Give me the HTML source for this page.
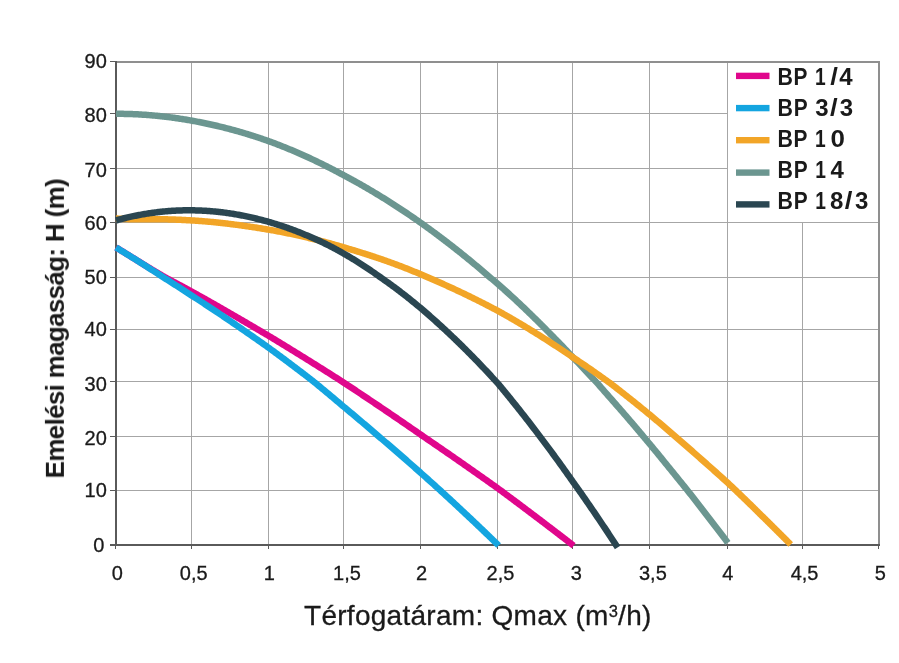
<!DOCTYPE html>
<html><head><meta charset="utf-8"><style>
html,body{margin:0;padding:0;background:#fff;}
body{width:899px;height:663px;overflow:hidden;}
svg{display:block;}
text{font-family:"Liberation Sans",sans-serif;}
</style></head><body>
<svg width="899" height="663" viewBox="0 0 899 663">
<rect width="899" height="663" fill="#fff"/>
<g fill="#a6a6a6" shape-rendering="crispEdges">
<rect x="116" y="113" width="763" height="1"/>
<rect x="116" y="168" width="763" height="1"/>
<rect x="116" y="222" width="763" height="1"/>
<rect x="116" y="277" width="763" height="1"/>
<rect x="116" y="329" width="763" height="1"/>
<rect x="116" y="381" width="763" height="1"/>
<rect x="116" y="436" width="763" height="1"/>
<rect x="116" y="490" width="763" height="1"/>
<rect x="191" y="62" width="1" height="483"/>
<rect x="268" y="62" width="1" height="483"/>
<rect x="343" y="62" width="1" height="483"/>
<rect x="420" y="62" width="1" height="483"/>
<rect x="497" y="62" width="1" height="483"/>
<rect x="572" y="62" width="1" height="483"/>
<rect x="649" y="62" width="1" height="483"/>
<rect x="727" y="62" width="1" height="483"/>
<rect x="802" y="62" width="1" height="483"/>
</g>
<rect x="728" y="63" width="150" height="159" fill="#fff"/>
<g fill="#8f8f8f" shape-rendering="crispEdges">
<rect x="116" y="61" width="763" height="2"/>
<rect x="878" y="61" width="2" height="484"/>
</g>
<g fill="#5a5a5a" shape-rendering="crispEdges">
<rect x="115" y="61" width="2" height="485"/>
<rect x="110" y="544" width="770" height="2"/>
<rect x="110" y="113" width="6" height="1"/>
<rect x="110" y="168" width="6" height="1"/>
<rect x="110" y="222" width="6" height="1"/>
<rect x="110" y="277" width="6" height="1"/>
<rect x="110" y="329" width="6" height="1"/>
<rect x="110" y="381" width="6" height="1"/>
<rect x="110" y="436" width="6" height="1"/>
<rect x="110" y="490" width="6" height="1"/>
<rect x="110" y="61" width="6" height="1"/>
<rect x="191" y="545" width="1" height="4"/>
<rect x="268" y="545" width="1" height="4"/>
<rect x="343" y="545" width="1" height="4"/>
<rect x="420" y="545" width="1" height="4"/>
<rect x="497" y="545" width="1" height="4"/>
<rect x="572" y="545" width="1" height="4"/>
<rect x="649" y="545" width="1" height="4"/>
<rect x="727" y="545" width="1" height="4"/>
<rect x="802" y="545" width="1" height="4"/>
<rect x="115" y="545" width="1" height="4"/>
<rect x="878" y="545" width="1" height="4"/>
</g>
<g fill="none" stroke-width="6.5" stroke-linecap="butt" stroke-linejoin="round">
<path d="M116.00,113.80 L116.38,113.80 L117.51,113.80 L118.64,113.81 L119.78,113.82 L120.91,113.83 L122.04,113.84 L123.17,113.86 L124.31,113.88 L125.44,113.91 L126.57,113.93 L127.70,113.96 L128.84,114.00 L129.97,114.03 L131.10,114.07 L132.23,114.12 L133.37,114.16 L134.50,114.21 L135.63,114.26 L136.76,114.32 L137.90,114.37 L139.03,114.43 L140.16,114.50 L141.29,114.57 L142.43,114.64 L143.56,114.71 L144.69,114.78 L145.82,114.86 L146.96,114.95 L148.09,115.03 L149.22,115.12 L150.35,115.21 L151.49,115.31 L152.62,115.40 L153.75,115.50 L154.88,115.61 L156.01,115.72 L157.15,115.83 L158.28,115.94 L159.41,116.05 L160.54,116.17 L161.68,116.30 L162.81,116.42 L163.94,116.55 L165.07,116.68 L166.21,116.82 L167.34,116.95 L168.47,117.09 L169.60,117.24 L170.74,117.38 L171.87,117.53 L173.00,117.69 L174.13,117.84 L175.27,118.00 L176.40,118.16 L177.53,118.33 L178.67,118.50 L179.80,118.67 L180.93,118.84 L182.06,119.02 L183.19,119.20 L184.33,119.38 L185.46,119.57 L186.59,119.76 L187.73,119.95 L188.86,120.15 L189.99,120.35 L191.12,120.55 L192.27,120.76 L193.42,120.96 L194.58,121.18 L195.73,121.39 L196.89,121.61 L198.04,121.83 L199.20,122.05 L200.35,122.28 L201.50,122.51 L202.66,122.74 L203.81,122.98 L204.97,123.21 L206.12,123.46 L207.28,123.70 L208.43,123.95 L209.59,124.20 L210.74,124.45 L211.89,124.71 L213.05,124.97 L214.20,125.24 L215.36,125.50 L216.51,125.77 L217.67,126.04 L218.82,126.32 L219.98,126.60 L221.13,126.88 L222.28,127.16 L223.44,127.45 L224.59,127.74 L225.75,128.04 L226.90,128.33 L228.06,128.64 L229.21,128.94 L230.36,129.24 L231.52,129.55 L232.67,129.87 L233.83,130.18 L234.98,130.50 L236.14,130.82 L237.29,131.15 L238.45,131.47 L239.60,131.81 L240.75,132.14 L241.91,132.48 L243.06,132.82 L244.22,133.16 L245.37,133.51 L246.53,133.86 L247.68,134.21 L248.84,134.56 L249.99,134.92 L251.14,135.28 L252.30,135.65 L253.45,136.02 L254.61,136.39 L255.76,136.76 L256.92,137.14 L258.07,137.52 L259.22,137.90 L260.38,138.29 L261.53,138.68 L262.69,139.07 L263.84,139.46 L265.00,139.86 L266.15,140.26 L267.31,140.67 L268.46,141.07 L269.59,141.49 L270.71,141.90 L271.84,142.32 L272.96,142.74 L274.09,143.16 L275.21,143.58 L276.34,144.01 L277.46,144.45 L278.59,144.88 L279.72,145.32 L280.84,145.76 L281.97,146.21 L283.09,146.65 L284.22,147.10 L285.34,147.56 L286.47,148.01 L287.60,148.47 L288.72,148.94 L289.85,149.40 L290.97,149.87 L292.10,150.34 L293.22,150.82 L294.35,151.30 L295.47,151.78 L296.60,152.26 L297.73,152.75 L298.85,153.24 L299.98,153.73 L301.10,154.23 L302.23,154.73 L303.35,155.23 L304.48,155.74 L305.60,156.25 L306.73,156.76 L307.86,157.27 L308.98,157.79 L310.11,158.31 L311.23,158.84 L312.36,159.36 L313.48,159.89 L314.61,160.43 L315.74,160.96 L316.86,161.50 L317.99,162.05 L319.11,162.59 L320.24,163.14 L321.36,163.69 L322.49,164.25 L323.61,164.81 L324.74,165.37 L325.87,165.93 L326.99,166.50 L328.12,167.07 L329.24,167.64 L330.37,168.22 L331.49,168.79 L332.62,169.37 L333.74,169.96 L334.87,170.54 L336.00,171.13 L337.12,171.72 L338.25,172.32 L339.37,172.91 L340.50,173.51 L341.62,174.12 L342.75,174.73 L343.88,175.33 L345.04,175.95 L346.19,176.56 L347.35,177.18 L348.50,177.80 L349.66,178.43 L350.81,179.06 L351.97,179.69 L353.12,180.32 L354.27,180.96 L355.43,181.60 L356.58,182.24 L357.74,182.89 L358.89,183.54 L360.05,184.19 L361.20,184.85 L362.36,185.51 L363.51,186.17 L364.66,186.83 L365.82,187.50 L366.97,188.17 L368.13,188.85 L369.28,189.52 L370.44,190.20 L371.59,190.89 L372.74,191.57 L373.90,192.26 L375.05,192.95 L376.21,193.65 L377.36,194.35 L378.52,195.05 L379.67,195.75 L380.83,196.46 L381.98,197.17 L383.13,197.88 L384.29,198.60 L385.44,199.32 L386.60,200.04 L387.75,200.77 L388.91,201.50 L390.06,202.23 L391.22,202.96 L392.37,203.70 L393.52,204.44 L394.68,205.19 L395.83,205.93 L396.99,206.68 L398.14,207.44 L399.30,208.19 L400.45,208.95 L401.60,209.72 L402.76,210.48 L403.91,211.25 L405.07,212.02 L406.22,212.80 L407.38,213.57 L408.53,214.35 L409.69,215.14 L410.84,215.92 L411.99,216.71 L413.15,217.51 L414.30,218.30 L415.46,219.10 L416.61,219.90 L417.77,220.71 L418.92,221.52 L420.08,222.33 L421.23,223.15 L422.39,223.97 L423.55,224.79 L424.70,225.62 L425.86,226.46 L427.02,227.29 L428.17,228.13 L429.33,228.97 L430.49,229.81 L431.65,230.66 L432.80,231.51 L433.96,232.36 L435.12,233.22 L436.27,234.08 L437.43,234.94 L438.59,235.81 L439.75,236.68 L440.90,237.55 L442.06,238.42 L443.22,239.30 L444.37,240.18 L445.53,241.07 L446.69,241.95 L447.84,242.84 L449.00,243.74 L450.16,244.63 L451.32,245.53 L452.47,246.43 L453.63,247.34 L454.79,248.25 L455.94,249.16 L457.10,250.07 L458.26,250.99 L459.42,251.91 L460.57,252.84 L461.73,253.76 L462.89,254.69 L464.04,255.63 L465.20,256.56 L466.36,257.50 L467.52,258.45 L468.67,259.39 L469.83,260.34 L470.99,261.29 L472.14,262.25 L473.30,263.20 L474.46,264.16 L475.62,265.13 L476.77,266.10 L477.93,267.07 L479.09,268.04 L480.24,269.01 L481.40,269.99 L482.56,270.98 L483.71,271.96 L484.87,272.95 L486.03,273.94 L487.19,274.94 L488.34,275.93 L489.50,276.93 L490.66,277.91 L491.81,278.87 L492.97,279.84 L494.13,280.81 L495.29,281.78 L496.44,282.76 L497.60,283.74 L498.73,284.72 L499.85,285.71 L500.98,286.70 L502.11,287.70 L503.23,288.70 L504.36,289.70 L505.49,290.71 L506.61,291.72 L507.74,292.74 L508.87,293.76 L509.99,294.79 L511.12,295.82 L512.24,296.85 L513.37,297.89 L514.50,298.93 L515.62,299.98 L516.75,301.03 L517.88,302.08 L519.00,303.14 L520.13,304.20 L521.26,305.27 L522.38,306.33 L523.51,307.41 L524.64,308.48 L525.76,309.56 L526.89,310.64 L528.02,311.73 L529.14,312.82 L530.27,313.91 L531.40,315.01 L532.52,316.11 L533.65,317.21 L534.77,318.32 L535.90,319.43 L537.03,320.54 L538.15,321.65 L539.28,322.77 L540.41,323.89 L541.53,325.02 L542.66,326.14 L543.79,327.27 L544.91,328.40 L546.04,329.54 L547.17,330.68 L548.29,331.81 L549.42,332.95 L550.55,334.09 L551.67,335.23 L552.80,336.37 L553.93,337.52 L555.05,338.67 L556.18,339.82 L557.30,340.97 L558.43,342.13 L559.56,343.29 L560.68,344.46 L561.81,345.63 L562.94,346.80 L564.06,347.98 L565.19,349.16 L566.32,350.35 L567.44,351.54 L568.57,352.73 L569.70,353.93 L570.82,355.13 L571.95,356.33 L573.09,357.53 L574.25,358.74 L575.41,359.96 L576.57,361.17 L577.72,362.39 L578.88,363.61 L580.04,364.83 L581.20,366.06 L582.36,367.28 L583.52,368.51 L584.68,369.74 L585.84,370.98 L587.00,372.21 L588.16,373.45 L589.32,374.69 L590.48,375.93 L591.64,377.17 L592.80,378.41 L593.96,379.65 L595.12,380.90 L596.28,382.14 L597.44,383.39 L598.60,384.68 L599.76,386.00 L600.91,387.32 L602.07,388.64 L603.23,389.96 L604.39,391.28 L605.55,392.60 L606.71,393.92 L607.87,395.24 L609.03,396.56 L610.19,397.88 L611.35,399.20 L612.51,400.52 L613.67,401.84 L614.83,403.16 L615.99,404.49 L617.15,405.81 L618.31,407.14 L619.47,408.46 L620.63,409.79 L621.79,411.12 L622.95,412.46 L624.10,413.79 L625.26,415.13 L626.42,416.47 L627.58,417.81 L628.74,419.16 L629.90,420.51 L631.06,421.86 L632.22,423.21 L633.38,424.57 L634.54,425.93 L635.70,427.30 L636.86,428.67 L638.02,430.04 L639.18,431.42 L640.34,432.80 L641.50,434.19 L642.66,435.58 L643.82,436.98 L644.98,438.37 L646.13,439.74 L647.29,441.13 L648.45,442.51 L649.61,443.90 L650.77,445.29 L651.93,446.68 L653.08,448.08 L654.24,449.48 L655.39,450.88 L656.54,452.29 L657.70,453.69 L658.86,455.10 L660.01,456.51 L661.17,457.93 L662.32,459.34 L663.48,460.76 L664.63,462.18 L665.78,463.60 L666.94,465.02 L668.10,466.44 L669.25,467.87 L670.41,469.29 L671.56,470.71 L672.72,472.14 L673.87,473.56 L675.02,474.98 L676.18,476.40 L677.34,477.83 L678.49,479.25 L679.64,480.68 L680.80,482.10 L681.96,483.53 L683.11,484.96 L684.26,486.40 L685.42,487.83 L686.58,489.27 L687.73,490.72 L688.88,492.18 L690.04,493.64 L691.20,495.11 L692.35,496.58 L693.50,498.05 L694.66,499.53 L695.81,501.01 L696.97,502.49 L698.12,503.98 L699.28,505.47 L700.44,506.96 L701.59,508.46 L702.75,509.96 L703.90,511.45 L705.05,512.95 L706.21,514.46 L707.37,515.96 L708.52,517.46 L709.68,518.97 L710.83,520.47 L711.99,521.97 L713.14,523.47 L714.29,524.96 L715.45,526.45 L716.61,527.93 L717.76,529.42 L718.92,530.92 L720.07,532.42 L721.23,533.95 L722.38,535.48 L723.53,537.04 L724.69,538.59 L725.85,540.15 L727.00,541.72 L727.78,542.80" stroke="#6b9690"/>
<path d="M116.00,218.47 L116.38,218.49 L117.51,218.55 L118.64,218.62 L119.78,218.69 L120.91,218.76 L122.04,218.83 L123.17,218.90 L124.31,218.96 L125.44,219.02 L126.57,219.07 L127.70,219.11 L128.84,219.14 L129.97,219.16 L131.10,219.16 L132.23,219.16 L133.37,219.15 L134.50,219.15 L135.63,219.15 L136.76,219.14 L137.90,219.14 L139.03,219.14 L140.16,219.13 L141.29,219.13 L142.43,219.13 L143.56,219.13 L144.69,219.13 L145.82,219.13 L146.96,219.13 L148.09,219.13 L149.22,219.13 L150.35,219.14 L151.49,219.14 L152.62,219.15 L153.75,219.16 L154.88,219.16 L156.01,219.17 L157.15,219.18 L158.28,219.20 L159.41,219.21 L160.54,219.23 L161.68,219.24 L162.81,219.26 L163.94,219.28 L165.07,219.30 L166.21,219.33 L167.34,219.36 L168.47,219.38 L169.60,219.41 L170.74,219.45 L171.87,219.48 L173.00,219.52 L174.13,219.56 L175.27,219.60 L176.40,219.64 L177.53,219.69 L178.67,219.74 L179.80,219.79 L180.93,219.84 L182.06,219.90 L183.19,219.95 L184.33,220.01 L185.46,220.07 L186.59,220.13 L187.73,220.19 L188.86,220.26 L189.99,220.32 L191.12,220.39 L192.27,220.46 L193.42,220.53 L194.58,220.60 L195.73,220.68 L196.89,220.76 L198.04,220.84 L199.20,220.92 L200.35,221.00 L201.50,221.09 L202.66,221.18 L203.81,221.28 L204.97,221.37 L206.12,221.47 L207.28,221.57 L208.43,221.67 L209.59,221.77 L210.74,221.88 L211.89,221.99 L213.05,222.10 L214.20,222.21 L215.36,222.33 L216.51,222.44 L217.67,222.56 L218.82,222.69 L219.98,222.81 L221.13,222.93 L222.28,223.06 L223.44,223.19 L224.59,223.32 L225.75,223.46 L226.90,223.59 L228.06,223.73 L229.21,223.87 L230.36,224.01 L231.52,224.16 L232.67,224.30 L233.83,224.45 L234.98,224.60 L236.14,224.75 L237.29,224.90 L238.45,225.06 L239.60,225.21 L240.75,225.37 L241.91,225.53 L243.06,225.69 L244.22,225.86 L245.37,226.02 L246.53,226.19 L247.68,226.36 L248.84,226.53 L249.99,226.70 L251.14,226.87 L252.30,227.04 L253.45,227.22 L254.61,227.40 L255.76,227.58 L256.92,227.76 L258.07,227.94 L259.22,228.12 L260.38,228.30 L261.53,228.49 L262.69,228.68 L263.84,228.87 L265.00,229.06 L266.15,229.25 L267.31,229.44 L268.46,229.63 L269.59,229.83 L270.71,230.03 L271.84,230.22 L272.96,230.43 L274.09,230.63 L275.21,230.83 L276.34,231.04 L277.46,231.25 L278.59,231.46 L279.72,231.68 L280.84,231.89 L281.97,232.11 L283.09,232.33 L284.22,232.55 L285.34,232.78 L286.47,233.00 L287.60,233.23 L288.72,233.46 L289.85,233.69 L290.97,233.93 L292.10,234.17 L293.22,234.40 L294.35,234.65 L295.47,234.89 L296.60,235.13 L297.73,235.38 L298.85,235.63 L299.98,235.88 L301.10,236.14 L302.23,236.39 L303.35,236.65 L304.48,236.91 L305.60,237.17 L306.73,237.44 L307.86,237.70 L308.98,237.97 L310.11,238.24 L311.23,238.52 L312.36,238.79 L313.48,239.07 L314.61,239.35 L315.74,239.63 L316.86,239.92 L317.99,240.20 L319.11,240.49 L320.24,240.78 L321.36,241.07 L322.49,241.37 L323.61,241.66 L324.74,241.96 L325.87,242.27 L326.99,242.57 L328.12,242.87 L329.24,243.18 L330.37,243.49 L331.49,243.81 L332.62,244.12 L333.74,244.44 L334.87,244.76 L336.00,245.08 L337.12,245.40 L338.25,245.73 L339.37,246.05 L340.50,246.38 L341.62,246.72 L342.75,247.05 L343.88,247.39 L345.04,247.73 L346.19,248.07 L347.35,248.41 L348.50,248.75 L349.66,249.09 L350.81,249.44 L351.97,249.79 L353.12,250.13 L354.27,250.48 L355.43,250.84 L356.58,251.19 L357.74,251.55 L358.89,251.90 L360.05,252.26 L361.20,252.62 L362.36,252.98 L363.51,253.35 L364.66,253.71 L365.82,254.08 L366.97,254.45 L368.13,254.82 L369.28,255.19 L370.44,255.57 L371.59,255.95 L372.74,256.33 L373.90,256.71 L375.05,257.09 L376.21,257.48 L377.36,257.87 L378.52,258.26 L379.67,258.65 L380.83,259.04 L381.98,259.44 L383.13,259.84 L384.29,260.24 L385.44,260.65 L386.60,261.05 L387.75,261.46 L388.91,261.88 L390.06,262.29 L391.22,262.71 L392.37,263.13 L393.52,263.55 L394.68,263.97 L395.83,264.40 L396.99,264.83 L398.14,265.26 L399.30,265.70 L400.45,266.14 L401.60,266.58 L402.76,267.03 L403.91,267.47 L405.07,267.92 L406.22,268.38 L407.38,268.83 L408.53,269.29 L409.69,269.75 L410.84,270.22 L411.99,270.69 L413.15,271.16 L414.30,271.64 L415.46,272.11 L416.61,272.60 L417.77,273.08 L418.92,273.57 L420.08,274.06 L421.23,274.55 L422.39,275.05 L423.55,275.55 L424.70,276.05 L425.86,276.56 L427.02,277.06 L428.17,277.57 L429.33,278.06 L430.49,278.55 L431.65,279.04 L432.80,279.53 L433.96,280.03 L435.12,280.53 L436.27,281.03 L437.43,281.54 L438.59,282.04 L439.75,282.55 L440.90,283.06 L442.06,283.58 L443.22,284.09 L444.37,284.61 L445.53,285.13 L446.69,285.65 L447.84,286.17 L449.00,286.70 L450.16,287.22 L451.32,287.75 L452.47,288.29 L453.63,288.82 L454.79,289.36 L455.94,289.89 L457.10,290.44 L458.26,290.98 L459.42,291.52 L460.57,292.07 L461.73,292.62 L462.89,293.17 L464.04,293.72 L465.20,294.28 L466.36,294.84 L467.52,295.40 L468.67,295.96 L469.83,296.53 L470.99,297.09 L472.14,297.66 L473.30,298.23 L474.46,298.80 L475.62,299.38 L476.77,299.96 L477.93,300.54 L479.09,301.12 L480.24,301.70 L481.40,302.29 L482.56,302.88 L483.71,303.47 L484.87,304.06 L486.03,304.65 L487.19,305.25 L488.34,305.85 L489.50,306.45 L490.66,307.05 L491.81,307.66 L492.97,308.27 L494.13,308.88 L495.29,309.49 L496.44,310.10 L497.60,310.72 L498.73,311.34 L499.85,311.96 L500.98,312.58 L502.11,313.21 L503.23,313.84 L504.36,314.47 L505.49,315.10 L506.61,315.74 L507.74,316.38 L508.87,317.03 L509.99,317.67 L511.12,318.32 L512.24,318.97 L513.37,319.62 L514.50,320.28 L515.62,320.94 L516.75,321.60 L517.88,322.26 L519.00,322.93 L520.13,323.60 L521.26,324.27 L522.38,324.94 L523.51,325.62 L524.64,326.30 L525.76,326.98 L526.89,327.66 L528.02,328.35 L529.14,329.03 L530.27,329.73 L531.40,330.42 L532.52,331.11 L533.65,331.80 L534.77,332.50 L535.90,333.20 L537.03,333.90 L538.15,334.60 L539.28,335.30 L540.41,336.01 L541.53,336.72 L542.66,337.43 L543.79,338.15 L544.91,338.87 L546.04,339.58 L547.17,340.30 L548.29,341.03 L549.42,341.75 L550.55,342.48 L551.67,343.21 L552.80,343.94 L553.93,344.68 L555.05,345.41 L556.18,346.15 L557.30,346.89 L558.43,347.63 L559.56,348.38 L560.68,349.12 L561.81,349.87 L562.94,350.62 L564.06,351.37 L565.19,352.13 L566.32,352.88 L567.44,353.64 L568.57,354.40 L569.70,355.16 L570.82,355.92 L571.95,356.69 L573.09,357.46 L574.25,358.23 L575.41,359.00 L576.57,359.77 L577.72,360.55 L578.88,361.33 L580.04,362.11 L581.20,362.90 L582.36,363.68 L583.52,364.47 L584.68,365.26 L585.84,366.05 L587.00,366.85 L588.16,367.64 L589.32,368.44 L590.48,369.25 L591.64,370.05 L592.80,370.86 L593.96,371.66 L595.12,372.48 L596.28,373.29 L597.44,374.10 L598.60,374.92 L599.76,375.74 L600.91,376.56 L602.07,377.38 L603.23,378.21 L604.39,379.04 L605.55,379.87 L606.71,380.70 L607.87,381.53 L609.03,382.37 L610.19,383.23 L611.35,384.11 L612.51,385.00 L613.67,385.90 L614.83,386.79 L615.99,387.69 L617.15,388.59 L618.31,389.49 L619.47,390.39 L620.63,391.30 L621.79,392.21 L622.95,393.12 L624.10,394.03 L625.26,394.94 L626.42,395.86 L627.58,396.78 L628.74,397.70 L629.90,398.62 L631.06,399.54 L632.22,400.47 L633.38,401.40 L634.54,402.33 L635.70,403.26 L636.86,404.20 L638.02,405.13 L639.18,406.07 L640.34,407.01 L641.50,407.96 L642.66,408.90 L643.82,409.85 L644.98,410.80 L646.13,411.75 L647.29,412.70 L648.45,413.66 L649.61,414.61 L650.77,415.57 L651.93,416.53 L653.08,417.50 L654.24,418.46 L655.39,419.43 L656.54,420.40 L657.70,421.37 L658.86,422.35 L660.01,423.32 L661.17,424.30 L662.32,425.28 L663.48,426.27 L664.63,427.25 L665.78,428.24 L666.94,429.23 L668.10,430.22 L669.25,431.22 L670.41,432.21 L671.56,433.21 L672.72,434.21 L673.87,435.22 L675.02,436.22 L676.18,437.23 L677.34,438.24 L678.49,439.24 L679.64,440.23 L680.80,441.23 L681.96,442.23 L683.11,443.23 L684.26,444.23 L685.42,445.23 L686.58,446.24 L687.73,447.25 L688.88,448.26 L690.04,449.27 L691.20,450.29 L692.35,451.30 L693.50,452.32 L694.66,453.34 L695.81,454.36 L696.97,455.39 L698.12,456.41 L699.28,457.43 L700.44,458.45 L701.59,459.47 L702.75,460.49 L703.90,461.51 L705.05,462.53 L706.21,463.55 L707.37,464.58 L708.52,465.60 L709.68,466.62 L710.83,467.65 L711.99,468.67 L713.14,469.70 L714.29,470.73 L715.45,471.76 L716.61,472.79 L717.76,473.82 L718.92,474.86 L720.07,475.89 L721.23,476.94 L722.38,477.98 L723.53,479.02 L724.69,480.07 L725.85,481.12 L727.00,482.18 L728.13,483.24 L729.26,484.30 L730.40,485.36 L731.53,486.43 L732.66,487.49 L733.79,488.56 L734.93,489.63 L736.06,490.71 L737.19,491.78 L738.33,492.87 L739.46,493.96 L740.59,495.05 L741.72,496.14 L742.86,497.24 L743.99,498.33 L745.12,499.43 L746.25,500.53 L747.38,501.63 L748.52,502.73 L749.65,503.83 L750.78,504.94 L751.91,506.05 L753.05,507.15 L754.18,508.26 L755.31,509.37 L756.45,510.48 L757.58,511.60 L758.71,512.71 L759.84,513.82 L760.97,514.94 L762.11,516.05 L763.24,517.17 L764.37,518.28 L765.50,519.40 L766.64,520.52 L767.77,521.64 L768.90,522.76 L770.04,523.88 L771.17,525.00 L772.30,526.12 L773.43,527.24 L774.57,528.37 L775.70,529.49 L776.83,530.62 L777.96,531.74 L779.09,532.87 L780.23,534.00 L781.36,535.13 L782.49,536.26 L783.62,537.40 L784.76,538.53 L785.89,539.66 L787.02,540.80 L788.16,541.94 L789.29,543.08 L790.42,544.22 L790.70,544.50" stroke="#f2a527"/>
<path d="M116.00,247.46 L116.38,247.69 L117.51,248.38 L118.64,249.07 L119.78,249.76 L120.91,250.45 L122.04,251.14 L123.17,251.83 L124.31,252.53 L125.44,253.22 L126.57,253.91 L127.70,254.61 L128.84,255.30 L129.97,256.00 L131.10,256.69 L132.23,257.39 L133.37,258.09 L134.50,258.80 L135.63,259.50 L136.76,260.21 L137.90,260.91 L139.03,261.62 L140.16,262.32 L141.29,263.03 L142.43,263.73 L143.56,264.42 L144.69,265.12 L145.82,265.80 L146.96,266.49 L148.09,267.17 L149.22,267.86 L150.35,268.54 L151.49,269.23 L152.62,269.91 L153.75,270.59 L154.88,271.27 L156.01,271.95 L157.15,272.63 L158.28,273.30 L159.41,273.97 L160.54,274.63 L161.68,275.29 L162.81,275.95 L163.94,276.60 L165.07,277.24 L166.21,277.88 L167.34,278.50 L168.47,279.10 L169.60,279.70 L170.74,280.30 L171.87,280.90 L173.00,281.50 L174.13,282.10 L175.27,282.69 L176.40,283.29 L177.53,283.89 L178.67,284.50 L179.80,285.10 L180.93,285.71 L182.06,286.32 L183.19,286.94 L184.33,287.56 L185.46,288.19 L186.59,288.81 L187.73,289.43 L188.86,290.06 L189.99,290.68 L191.12,291.31 L192.27,291.94 L193.42,292.57 L194.58,293.20 L195.73,293.83 L196.89,294.46 L198.04,295.09 L199.20,295.73 L200.35,296.37 L201.50,297.01 L202.66,297.65 L203.81,298.30 L204.97,298.95 L206.12,299.60 L207.28,300.25 L208.43,300.91 L209.59,301.56 L210.74,302.22 L211.89,302.88 L213.05,303.53 L214.20,304.19 L215.36,304.85 L216.51,305.51 L217.67,306.17 L218.82,306.83 L219.98,307.49 L221.13,308.15 L222.28,308.81 L223.44,309.48 L224.59,310.14 L225.75,310.80 L226.90,311.47 L228.06,312.13 L229.21,312.80 L230.36,313.46 L231.52,314.13 L232.67,314.80 L233.83,315.47 L234.98,316.13 L236.14,316.80 L237.29,317.47 L238.45,318.14 L239.60,318.81 L240.75,319.48 L241.91,320.16 L243.06,320.83 L244.22,321.50 L245.37,322.17 L246.53,322.85 L247.68,323.52 L248.84,324.20 L249.99,324.87 L251.14,325.55 L252.30,326.23 L253.45,326.90 L254.61,327.58 L255.76,328.26 L256.92,328.94 L258.07,329.62 L259.22,330.29 L260.38,330.97 L261.53,331.65 L262.69,332.33 L263.84,333.00 L265.00,333.68 L266.15,334.36 L267.31,335.04 L268.46,335.72 L269.59,336.41 L270.71,337.09 L271.84,337.77 L272.96,338.45 L274.09,339.14 L275.21,339.82 L276.34,340.51 L277.46,341.19 L278.59,341.88 L279.72,342.56 L280.84,343.25 L281.97,343.94 L283.09,344.63 L284.22,345.32 L285.34,346.00 L286.47,346.69 L287.60,347.38 L288.72,348.08 L289.85,348.77 L290.97,349.46 L292.10,350.15 L293.22,350.85 L294.35,351.54 L295.47,352.23 L296.60,352.93 L297.73,353.62 L298.85,354.32 L299.98,355.02 L301.10,355.71 L302.23,356.41 L303.35,357.11 L304.48,357.81 L305.60,358.51 L306.73,359.21 L307.86,359.91 L308.98,360.61 L310.11,361.31 L311.23,362.01 L312.36,362.72 L313.48,363.42 L314.61,364.12 L315.74,364.83 L316.86,365.53 L317.99,366.24 L319.11,366.95 L320.24,367.65 L321.36,368.36 L322.49,369.07 L323.61,369.78 L324.74,370.49 L325.87,371.20 L326.99,371.91 L328.12,372.62 L329.24,373.33 L330.37,374.04 L331.49,374.75 L332.62,375.47 L333.74,376.18 L334.87,376.89 L336.00,377.61 L337.12,378.32 L338.25,379.04 L339.37,379.76 L340.50,380.47 L341.62,381.19 L342.75,381.93 L343.88,382.69 L345.04,383.45 L346.19,384.21 L347.35,384.98 L348.50,385.74 L349.66,386.50 L350.81,387.27 L351.97,388.03 L353.12,388.80 L354.27,389.56 L355.43,390.33 L356.58,391.09 L357.74,391.86 L358.89,392.63 L360.05,393.40 L361.20,394.17 L362.36,394.94 L363.51,395.71 L364.66,396.48 L365.82,397.25 L366.97,398.02 L368.13,398.79 L369.28,399.57 L370.44,400.34 L371.59,401.12 L372.74,401.89 L373.90,402.67 L375.05,403.44 L376.21,404.22 L377.36,405.00 L378.52,405.78 L379.67,406.55 L380.83,407.33 L381.98,408.11 L383.13,408.89 L384.29,409.68 L385.44,410.46 L386.60,411.24 L387.75,412.02 L388.91,412.81 L390.06,413.59 L391.22,414.38 L392.37,415.16 L393.52,415.95 L394.68,416.73 L395.83,417.52 L396.99,418.31 L398.14,419.10 L399.30,419.88 L400.45,420.67 L401.60,421.46 L402.76,422.26 L403.91,423.05 L405.07,423.84 L406.22,424.63 L407.38,425.42 L408.53,426.22 L409.69,427.01 L410.84,427.81 L411.99,428.60 L413.15,429.40 L414.30,430.19 L415.46,430.99 L416.61,431.79 L417.77,432.59 L418.92,433.39 L420.08,434.19 L421.23,434.99 L422.39,435.79 L423.55,436.59 L424.70,437.38 L425.86,438.16 L427.02,438.95 L428.17,439.74 L429.33,440.53 L430.49,441.32 L431.65,442.11 L432.80,442.90 L433.96,443.70 L435.12,444.49 L436.27,445.28 L437.43,446.08 L438.59,446.87 L439.75,447.67 L440.90,448.46 L442.06,449.26 L443.22,450.06 L444.37,450.85 L445.53,451.65 L446.69,452.45 L447.84,453.25 L449.00,454.05 L450.16,454.85 L451.32,455.65 L452.47,456.45 L453.63,457.25 L454.79,458.06 L455.94,458.86 L457.10,459.66 L458.26,460.47 L459.42,461.27 L460.57,462.08 L461.73,462.89 L462.89,463.69 L464.04,464.50 L465.20,465.31 L466.36,466.12 L467.52,466.93 L468.67,467.74 L469.83,468.55 L470.99,469.36 L472.14,470.17 L473.30,470.98 L474.46,471.79 L475.62,472.61 L476.77,473.42 L477.93,474.23 L479.09,475.05 L480.24,475.87 L481.40,476.68 L482.56,477.50 L483.71,478.32 L484.87,479.13 L486.03,479.95 L487.19,480.77 L488.34,481.59 L489.50,482.41 L490.66,483.23 L491.81,484.05 L492.97,484.88 L494.13,485.70 L495.29,486.52 L496.44,487.35 L497.60,488.17 L498.73,489.00 L499.85,489.82 L500.98,490.65 L502.11,491.48 L503.23,492.32 L504.36,493.15 L505.49,493.99 L506.61,494.83 L507.74,495.67 L508.87,496.50 L509.99,497.34 L511.12,498.18 L512.24,499.02 L513.37,499.86 L514.50,500.70 L515.62,501.54 L516.75,502.39 L517.88,503.23 L519.00,504.07 L520.13,504.92 L521.26,505.76 L522.38,506.61 L523.51,507.45 L524.64,508.30 L525.76,509.15 L526.89,509.99 L528.02,510.84 L529.14,511.69 L530.27,512.54 L531.40,513.39 L532.52,514.24 L533.65,515.09 L534.77,515.94 L535.90,516.79 L537.03,517.65 L538.15,518.50 L539.28,519.36 L540.41,520.21 L541.53,521.06 L542.66,521.92 L543.79,522.78 L544.91,523.63 L546.04,524.49 L547.17,525.35 L548.29,526.21 L549.42,527.07 L550.55,527.93 L551.67,528.79 L552.80,529.65 L553.93,530.51 L555.05,531.37 L556.18,532.24 L557.30,533.10 L558.43,533.96 L559.56,534.83 L560.68,535.69 L561.81,536.56 L562.94,537.43 L564.06,538.29 L565.19,539.16 L566.32,540.03 L567.44,540.90 L568.57,541.77 L569.70,542.64 L570.82,543.51 L571.95,544.38 L573.09,545.25 L573.68,545.70" stroke="#e0068c"/>
<path d="M116.00,220.41 L116.38,220.31 L117.51,220.00 L118.64,219.70 L119.78,219.40 L120.91,219.10 L122.04,218.81 L123.17,218.52 L124.31,218.24 L125.44,217.97 L126.57,217.70 L127.70,217.43 L128.84,217.17 L129.97,216.91 L131.10,216.66 L132.23,216.42 L133.37,216.17 L134.50,215.94 L135.63,215.70 L136.76,215.48 L137.90,215.26 L139.03,215.04 L140.16,214.83 L141.29,214.62 L142.43,214.42 L143.56,214.22 L144.69,214.02 L145.82,213.84 L146.96,213.65 L148.09,213.47 L149.22,213.30 L150.35,213.13 L151.49,212.97 L152.62,212.81 L153.75,212.66 L154.88,212.51 L156.01,212.36 L157.15,212.22 L158.28,212.09 L159.41,211.96 L160.54,211.83 L161.68,211.71 L162.81,211.60 L163.94,211.49 L165.07,211.38 L166.21,211.28 L167.34,211.19 L168.47,211.10 L169.60,211.01 L170.74,210.93 L171.87,210.85 L173.00,210.78 L174.13,210.72 L175.27,210.66 L176.40,210.60 L177.53,210.55 L178.67,210.50 L179.80,210.46 L180.93,210.42 L182.06,210.39 L183.19,210.36 L184.33,210.34 L185.46,210.32 L186.59,210.31 L187.73,210.30 L188.86,210.30 L189.99,210.30 L191.12,210.31 L192.27,210.32 L193.42,210.34 L194.58,210.36 L195.73,210.39 L196.89,210.42 L198.04,210.45 L199.20,210.49 L200.35,210.54 L201.50,210.59 L202.66,210.65 L203.81,210.71 L204.97,210.77 L206.12,210.84 L207.28,210.92 L208.43,211.00 L209.59,211.08 L210.74,211.17 L211.89,211.27 L213.05,211.37 L214.20,211.47 L215.36,211.58 L216.51,211.69 L217.67,211.81 L218.82,211.94 L219.98,212.06 L221.13,212.20 L222.28,212.33 L223.44,212.48 L224.59,212.62 L225.75,212.78 L226.90,212.93 L228.06,213.10 L229.21,213.26 L230.36,213.44 L231.52,213.61 L232.67,213.79 L233.83,213.98 L234.98,214.17 L236.14,214.37 L237.29,214.58 L238.45,214.78 L239.60,215.00 L240.75,215.21 L241.91,215.44 L243.06,215.66 L244.22,215.90 L245.37,216.13 L246.53,216.38 L247.68,216.62 L248.84,216.87 L249.99,217.13 L251.14,217.39 L252.30,217.66 L253.45,217.92 L254.61,218.20 L255.76,218.48 L256.92,218.76 L258.07,219.05 L259.22,219.34 L260.38,219.63 L261.53,219.93 L262.69,220.24 L263.84,220.54 L265.00,220.86 L266.15,221.17 L267.31,221.49 L268.46,221.81 L269.59,222.14 L270.71,222.47 L271.84,222.81 L272.96,223.15 L274.09,223.49 L275.21,223.84 L276.34,224.19 L277.46,224.54 L278.59,224.90 L279.72,225.27 L280.84,225.64 L281.97,226.01 L283.09,226.38 L284.22,226.76 L285.34,227.15 L286.47,227.54 L287.60,227.93 L288.72,228.33 L289.85,228.73 L290.97,229.14 L292.10,229.56 L293.22,229.97 L294.35,230.40 L295.47,230.82 L296.60,231.26 L297.73,231.70 L298.85,232.14 L299.98,232.59 L301.10,233.04 L302.23,233.49 L303.35,233.95 L304.48,234.41 L305.60,234.88 L306.73,235.35 L307.86,235.82 L308.98,236.30 L310.11,236.78 L311.23,237.27 L312.36,237.76 L313.48,238.25 L314.61,238.75 L315.74,239.26 L316.86,239.77 L317.99,240.28 L319.11,240.80 L320.24,241.32 L321.36,241.85 L322.49,242.39 L323.61,242.93 L324.74,243.47 L325.87,244.03 L326.99,244.58 L328.12,245.15 L329.24,245.71 L330.37,246.29 L331.49,246.87 L332.62,247.46 L333.74,248.05 L334.87,248.65 L336.00,249.26 L337.12,249.87 L338.25,250.49 L339.37,251.11 L340.50,251.75 L341.62,252.39 L342.75,253.03 L343.88,253.69 L345.04,254.35 L346.19,255.01 L347.35,255.68 L348.50,256.36 L349.66,257.04 L350.81,257.73 L351.97,258.43 L353.12,259.13 L354.27,259.83 L355.43,260.55 L356.58,261.26 L357.74,261.98 L358.89,262.71 L360.05,263.45 L361.20,264.19 L362.36,264.93 L363.51,265.68 L364.66,266.44 L365.82,267.20 L366.97,267.97 L368.13,268.74 L369.28,269.52 L370.44,270.30 L371.59,271.09 L372.74,271.88 L373.90,272.68 L375.05,273.48 L376.21,274.29 L377.36,275.11 L378.52,275.93 L379.67,276.75 L380.83,277.55 L381.98,278.35 L383.13,279.16 L384.29,279.97 L385.44,280.79 L386.60,281.61 L387.75,282.43 L388.91,283.26 L390.06,284.10 L391.22,284.94 L392.37,285.79 L393.52,286.64 L394.68,287.49 L395.83,288.35 L396.99,289.22 L398.14,290.09 L399.30,290.96 L400.45,291.84 L401.60,292.72 L402.76,293.61 L403.91,294.50 L405.07,295.40 L406.22,296.30 L407.38,297.21 L408.53,298.13 L409.69,299.05 L410.84,299.97 L411.99,300.91 L413.15,301.84 L414.30,302.79 L415.46,303.74 L416.61,304.69 L417.77,305.65 L418.92,306.62 L420.08,307.59 L421.23,308.56 L422.39,309.55 L423.55,310.53 L424.70,311.53 L425.86,312.52 L427.02,313.53 L428.17,314.54 L429.33,315.55 L430.49,316.57 L431.65,317.59 L432.80,318.62 L433.96,319.65 L435.12,320.69 L436.27,321.73 L437.43,322.78 L438.59,323.83 L439.75,324.89 L440.90,325.95 L442.06,327.01 L443.22,328.08 L444.37,329.16 L445.53,330.24 L446.69,331.32 L447.84,332.40 L449.00,333.48 L450.16,334.57 L451.32,335.67 L452.47,336.76 L453.63,337.87 L454.79,338.97 L455.94,340.08 L457.10,341.20 L458.26,342.31 L459.42,343.43 L460.57,344.56 L461.73,345.69 L462.89,346.83 L464.04,347.97 L465.20,349.12 L466.36,350.27 L467.52,351.43 L468.67,352.59 L469.83,353.76 L470.99,354.93 L472.14,356.11 L473.30,357.29 L474.46,358.48 L475.62,359.67 L476.77,360.87 L477.93,362.07 L479.09,363.27 L480.24,364.48 L481.40,365.70 L482.56,366.92 L483.71,368.14 L484.87,369.37 L486.03,370.60 L487.19,371.84 L488.34,373.08 L489.50,374.33 L490.66,375.58 L491.81,376.83 L492.97,378.09 L494.13,379.35 L495.29,380.61 L496.44,381.88 L497.60,383.16 L498.73,384.45 L499.85,385.80 L500.98,387.16 L502.11,388.52 L503.23,389.88 L504.36,391.25 L505.49,392.62 L506.61,394.00 L507.74,395.38 L508.87,396.76 L509.99,398.15 L511.12,399.54 L512.24,400.94 L513.37,402.33 L514.50,403.73 L515.62,405.14 L516.75,406.55 L517.88,407.96 L519.00,409.37 L520.13,410.79 L521.26,412.21 L522.38,413.64 L523.51,415.07 L524.64,416.50 L525.76,417.95 L526.89,419.39 L528.02,420.84 L529.14,422.30 L530.27,423.76 L531.40,425.22 L532.52,426.69 L533.65,428.17 L534.77,429.65 L535.90,431.13 L537.03,432.62 L538.15,434.11 L539.28,435.61 L540.41,437.12 L541.53,438.63 L542.66,440.13 L543.79,441.62 L544.91,443.11 L546.04,444.62 L547.17,446.12 L548.29,447.63 L549.42,449.14 L550.55,450.66 L551.67,452.19 L552.80,453.72 L553.93,455.25 L555.05,456.79 L556.18,458.33 L557.30,459.88 L558.43,461.43 L559.56,462.99 L560.68,464.56 L561.81,466.12 L562.94,467.69 L564.06,469.27 L565.19,470.85 L566.32,472.44 L567.44,474.03 L568.57,475.63 L569.70,477.23 L570.82,478.83 L571.95,480.44 L573.09,482.06 L574.25,483.68 L575.41,485.30 L576.57,486.93 L577.72,488.56 L578.88,490.19 L580.04,491.83 L581.20,493.47 L582.36,495.13 L583.52,496.79 L584.68,498.46 L585.84,500.13 L587.00,501.80 L588.16,503.48 L589.32,505.17 L590.48,506.85 L591.64,508.54 L592.80,510.24 L593.96,511.94 L595.12,513.64 L596.28,515.35 L597.44,517.06 L598.60,518.78 L599.76,520.50 L600.91,522.22 L602.07,523.95 L603.23,525.69 L604.39,527.42 L605.55,529.17 L606.71,530.91 L607.87,532.66 L609.03,534.42 L610.19,536.18 L611.35,537.95 L612.51,539.72 L613.67,541.49 L614.83,543.27 L615.99,545.05 L617.15,546.84 L617.57,547.50" stroke="#2a4651"/>
<path d="M116.00,247.46 L116.38,247.69 L117.51,248.38 L118.64,249.07 L119.78,249.76 L120.91,250.45 L122.04,251.15 L123.17,251.84 L124.31,252.54 L125.44,253.24 L126.57,253.94 L127.70,254.64 L128.84,255.34 L129.97,256.05 L131.10,256.75 L132.23,257.46 L133.37,258.16 L134.50,258.87 L135.63,259.58 L136.76,260.29 L137.90,261.01 L139.03,261.72 L140.16,262.44 L141.29,263.15 L142.43,263.87 L143.56,264.59 L144.69,265.31 L145.82,266.03 L146.96,266.75 L148.09,267.48 L149.22,268.20 L150.35,268.93 L151.49,269.66 L152.62,270.39 L153.75,271.12 L154.88,271.85 L156.01,272.59 L157.15,273.32 L158.28,274.06 L159.41,274.80 L160.54,275.53 L161.68,276.27 L162.81,276.99 L163.94,277.70 L165.07,278.42 L166.21,279.13 L167.34,279.85 L168.47,280.56 L169.60,281.28 L170.74,282.00 L171.87,282.72 L173.00,283.44 L174.13,284.17 L175.27,284.89 L176.40,285.62 L177.53,286.34 L178.67,287.07 L179.80,287.80 L180.93,288.53 L182.06,289.26 L183.19,290.00 L184.33,290.73 L185.46,291.46 L186.59,292.20 L187.73,292.94 L188.86,293.68 L189.99,294.42 L191.12,295.16 L192.27,295.90 L193.42,296.65 L194.58,297.39 L195.73,298.14 L196.89,298.89 L198.04,299.64 L199.20,300.39 L200.35,301.14 L201.50,301.89 L202.66,302.65 L203.81,303.40 L204.97,304.16 L206.12,304.92 L207.28,305.68 L208.43,306.44 L209.59,307.20 L210.74,307.96 L211.89,308.73 L213.05,309.49 L214.20,310.26 L215.36,311.03 L216.51,311.80 L217.67,312.57 L218.82,313.34 L219.98,314.11 L221.13,314.89 L222.28,315.66 L223.44,316.44 L224.59,317.22 L225.75,318.00 L226.90,318.78 L228.06,319.56 L229.21,320.34 L230.36,321.13 L231.52,321.91 L232.67,322.70 L233.83,323.49 L234.98,324.28 L236.14,325.07 L237.29,325.86 L238.45,326.65 L239.60,327.45 L240.75,328.24 L241.91,329.04 L243.06,329.83 L244.22,330.63 L245.37,331.42 L246.53,332.22 L247.68,333.02 L248.84,333.82 L249.99,334.62 L251.14,335.42 L252.30,336.23 L253.45,337.03 L254.61,337.84 L255.76,338.64 L256.92,339.45 L258.07,340.26 L259.22,341.07 L260.38,341.88 L261.53,342.70 L262.69,343.51 L263.84,344.33 L265.00,345.15 L266.15,345.96 L267.31,346.78 L268.46,347.60 L269.59,348.43 L270.71,349.25 L271.84,350.07 L272.96,350.90 L274.09,351.73 L275.21,352.56 L276.34,353.39 L277.46,354.22 L278.59,355.05 L279.72,355.88 L280.84,356.72 L281.97,357.55 L283.09,358.39 L284.22,359.23 L285.34,360.07 L286.47,360.91 L287.60,361.75 L288.72,362.59 L289.85,363.44 L290.97,364.28 L292.10,365.13 L293.22,365.98 L294.35,366.83 L295.47,367.68 L296.60,368.53 L297.73,369.39 L298.85,370.24 L299.98,371.10 L301.10,371.95 L302.23,372.81 L303.35,373.67 L304.48,374.53 L305.60,375.40 L306.73,376.26 L307.86,377.12 L308.98,377.99 L310.11,378.86 L311.23,379.73 L312.36,380.60 L313.48,381.50 L314.61,382.42 L315.74,383.34 L316.86,384.27 L317.99,385.20 L319.11,386.12 L320.24,387.05 L321.36,387.98 L322.49,388.92 L323.61,389.85 L324.74,390.78 L325.87,391.72 L326.99,392.66 L328.12,393.59 L329.24,394.53 L330.37,395.48 L331.49,396.42 L332.62,397.36 L333.74,398.31 L334.87,399.25 L336.00,400.20 L337.12,401.15 L338.25,402.10 L339.37,403.05 L340.50,404.01 L341.62,404.96 L342.75,405.92 L343.88,406.87 L345.04,407.83 L346.19,408.79 L347.35,409.75 L348.50,410.71 L349.66,411.68 L350.81,412.64 L351.97,413.61 L353.12,414.58 L354.27,415.55 L355.43,416.52 L356.58,417.49 L357.74,418.46 L358.89,419.43 L360.05,420.41 L361.20,421.39 L362.36,422.37 L363.51,423.35 L364.66,424.33 L365.82,425.31 L366.97,426.29 L368.13,427.28 L369.28,428.26 L370.44,429.25 L371.59,430.24 L372.74,431.23 L373.90,432.22 L375.05,433.21 L376.21,434.21 L377.36,435.20 L378.52,436.20 L379.67,437.18 L380.83,438.16 L381.98,439.14 L383.13,440.12 L384.29,441.11 L385.44,442.10 L386.60,443.08 L387.75,444.07 L388.91,445.06 L390.06,446.05 L391.22,447.05 L392.37,448.04 L393.52,449.04 L394.68,450.03 L395.83,451.03 L396.99,452.03 L398.14,453.03 L399.30,454.03 L400.45,455.04 L401.60,456.04 L402.76,457.05 L403.91,458.06 L405.07,459.07 L406.22,460.07 L407.38,461.09 L408.53,462.10 L409.69,463.11 L410.84,464.13 L411.99,465.14 L413.15,466.16 L414.30,467.18 L415.46,468.20 L416.61,469.22 L417.77,470.25 L418.92,471.27 L420.08,472.30 L421.23,473.32 L422.39,474.35 L423.55,475.38 L424.70,476.41 L425.86,477.44 L427.02,478.48 L428.17,479.51 L429.33,480.55 L430.49,481.58 L431.65,482.62 L432.80,483.66 L433.96,484.70 L435.12,485.75 L436.27,486.79 L437.43,487.83 L438.59,488.88 L439.75,489.93 L440.90,490.99 L442.06,492.05 L443.22,493.11 L444.37,494.17 L445.53,495.23 L446.69,496.30 L447.84,497.37 L449.00,498.43 L450.16,499.50 L451.32,500.57 L452.47,501.64 L453.63,502.72 L454.79,503.79 L455.94,504.87 L457.10,505.94 L458.26,507.02 L459.42,508.10 L460.57,509.18 L461.73,510.27 L462.89,511.35 L464.04,512.43 L465.20,513.52 L466.36,514.61 L467.52,515.70 L468.67,516.79 L469.83,517.88 L470.99,518.97 L472.14,520.06 L473.30,521.16 L474.46,522.26 L475.62,523.35 L476.77,524.45 L477.93,525.55 L479.09,526.66 L480.24,527.76 L481.40,528.86 L482.56,529.97 L483.71,531.08 L484.87,532.19 L486.03,533.30 L487.19,534.41 L488.34,535.52 L489.50,536.63 L490.66,537.75 L491.81,538.86 L492.97,539.98 L494.13,541.10 L495.29,542.22 L496.44,543.34 L497.60,544.47 L498.64,545.50" stroke="#14a5e0"/>
</g>
<g opacity="0.999">
<g font-size="20" fill="#1a1a1a" stroke="#1a1a1a" stroke-width="0.3">
<text x="106.8" y="68.0" text-anchor="end">90</text>
<text x="106.8" y="122.1" text-anchor="end">80</text>
<text x="106.8" y="176.7" text-anchor="end">70</text>
<text x="106.8" y="230.3" text-anchor="end">60</text>
<text x="106.8" y="283.9" text-anchor="end">50</text>
<text x="106.8" y="335.9" text-anchor="end">40</text>
<text x="106.8" y="390.5" text-anchor="end">30</text>
<text x="106.8" y="445.1" text-anchor="end">20</text>
<text x="106.8" y="497.0" text-anchor="end">10</text>
<text x="104.4" y="551.9" text-anchor="end">0</text>
<text x="117.2" y="580.2" text-anchor="middle">0</text>
<text x="193.7" y="580.2" text-anchor="middle">0,5</text>
<text x="269.4" y="580.2" text-anchor="middle">1</text>
<text x="347.0" y="580.2" text-anchor="middle">1,5</text>
<text x="421.5" y="580.2" text-anchor="middle">2</text>
<text x="500.5" y="580.2" text-anchor="middle">2,5</text>
<text x="576.4" y="580.2" text-anchor="middle">3</text>
<text x="652.9" y="580.2" text-anchor="middle">3,5</text>
<text x="727.9" y="580.2" text-anchor="middle">4</text>
<text x="804.6" y="580.2" text-anchor="middle">4,5</text>
<text x="880.4" y="580.2" text-anchor="middle">5</text>
</g>
<g font-size="24" font-weight="bold" fill="#1a1a1a" letter-spacing="0">
<rect x="736" y="72.7" width="33.5" height="6.4" fill="#e0068c"/>
<text transform="translate(777.38,84.5) scale(0.89,1)">B</text>
<text transform="translate(793.49,84.5) scale(0.87,1)">P</text>
<text transform="translate(815.02,84.5) scale(0.8,1)">1</text>
<text transform="translate(830.21,84.5) scale(1.15,1)">/</text>
<text x="839.20" y="84.5">4</text>
<rect x="736" y="104.9" width="33.5" height="6.4" fill="#14a5e0"/>
<text transform="translate(777.38,115.7) scale(0.89,1)">B</text>
<text transform="translate(793.79,115.7) scale(0.87,1)">P</text>
<text x="815.15" y="115.7">3</text>
<text transform="translate(829.91,115.7) scale(1.15,1)">/</text>
<text x="839.85" y="115.7">3</text>
<rect x="736" y="137.0" width="33.5" height="6.4" fill="#f2a527"/>
<text transform="translate(777.48,146.8) scale(0.89,1)">B</text>
<text transform="translate(793.49,146.8) scale(0.87,1)">P</text>
<text transform="translate(814.92,146.8) scale(0.8,1)">1</text>
<text transform="translate(830.51,146.8) scale(1.08,1)">0</text>
<rect x="736" y="169.4" width="33.5" height="6.4" fill="#6b9690"/>
<text transform="translate(777.38,177.8) scale(0.89,1)">B</text>
<text transform="translate(793.79,177.8) scale(0.87,1)">P</text>
<text transform="translate(815.22,177.8) scale(0.8,1)">1</text>
<text x="830.50" y="177.8">4</text>
<rect x="736" y="201.2" width="33.5" height="6.4" fill="#2a4651"/>
<text transform="translate(777.38,209.0) scale(0.89,1)">B</text>
<text transform="translate(793.79,209.0) scale(0.87,1)">P</text>
<text transform="translate(815.22,209.0) scale(0.8,1)">1</text>
<text x="830.05" y="209.0">8</text>
<text transform="translate(844.66,209.0) scale(1.15,1)">/</text>
<text x="854.95" y="209.0">3</text>
</g>
<text x="0" y="0" transform="translate(63.9,478.4) rotate(-90)" font-size="26" font-weight="bold" fill="#1a1a1a" letter-spacing="-0.68">Emelési magasság: H (m)</text>
<text x="304" y="625.4" font-size="28" fill="#1a1a1a" stroke="#1a1a1a" stroke-width="0.3" letter-spacing="0.28">Térfogatáram: Qmax (m<tspan font-size="16.5" dy="-8.8">3</tspan><tspan dy="8.8">/h)</tspan></text>
</g>
</svg>
</body></html>
